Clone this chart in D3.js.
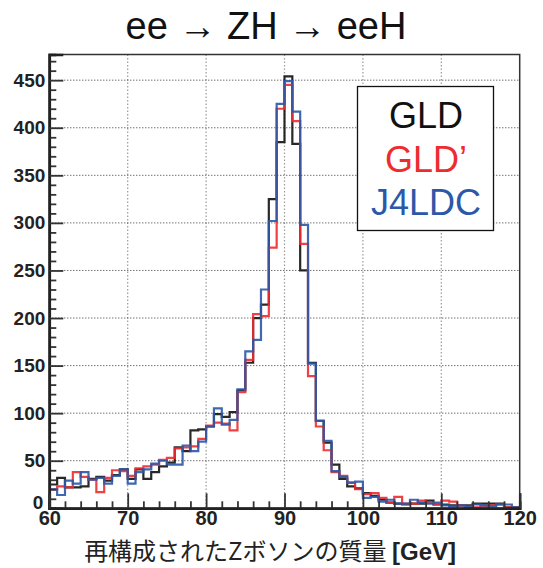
<!DOCTYPE html>
<html><head><meta charset="utf-8">
<script src="https://cdn.jsdelivr.net/npm/d3@7"></script>
<style>
html,body{margin:0;padding:0;background:#fff;}
svg{display:block;}
</style>
</head><body>
<svg id="c" width="543" height="568"></svg>
<script>
// ---- data (bin lower edges 60..119, 1 GeV bins) ----
const binEdges = d3.range(60, 121, 1);
const gld = [25, 32, 22, 22, 23, 31, 33, 29, 35, 41, 31, 41, 31, 38, 44, 48, 64, 60, 82, 83,
             86, 99, 96, 101, 124, 153, 200, 214, 325, 385, 454, 383, 250, 153, 92, 69, 46, 31, 23, 21,
             16, 13, 9, 6, 5, 4, 5, 5, 8, 4, 4, 3, 3, 3, 5, 5, 5, 5, 1, 1];
const gldPrime = [20, 23, 22, 38, 33, 30, 17, 32, 40, 39, 34, 42, 44, 46, 51, 53, 63, 64, 65, 73,
                  87, 90, 89, 82, 122, 156, 204, 202, 274, 420, 445, 407, 278, 139, 86, 61, 38, 34, 27, 20,
                  15, 16, 11, 6, 12, 5, 5, 8, 6, 4, 8, 7, 3, 1, 1, 2, 3, 4, 1, 1];
const j4ldc = [20, 14, 29, 26, 38, 30, 32, 26, 34, 41, 26, 38, 41, 47, 50, 46, 46, 66, 60, 70,
               86, 105, 88, 93, 125, 165, 177, 230, 302, 425, 449, 417, 298, 152, 92, 71, 39, 33, 27, 28,
               11, 12, 7, 9, 5, 5, 9, 6, 5, 6, 3, 2, 3, 2, 4, 3, 2, 4, 4, 1];
const seriesNames = ["GLD", "GLD\u2019", "J4LDC"];
const seriesColors = ["#111111", "#ee2b2f", "#2b58a8"];
const xTicks = [60, 70, 80, 90, 100, 110, 120];
const yTicks = [0, 50, 100, 150, 200, 250, 300, 350, 400, 450];
const titleText = "ee \u2192 ZH \u2192 eeH";
const xTitleMain = "再構成されたZボソンの質量 ";
const xTitleUnit = "[GeV]";

// ---- layout ----
const L = 49.3, R = 519.7, T = 54.5, B = 508.3;
const svg = d3.select("#c");
const x = d3.scaleLinear().domain([60, 120]).range([L, R]);
const y = d3.scaleLinear().domain([0, 477]).range([B, T]);

// grid
const grid = svg.append("g");
grid.selectAll("line.gx").data(xTicks.slice(1, -1)).join("line")
  .attr("x1", d => x(d)).attr("x2", d => x(d)).attr("y1", T).attr("y2", B)
  .attr("stroke", "#9a9a9a").attr("stroke-width", 1.2).attr("stroke-dasharray", "1.5,2");
grid.selectAll("line.gy").data(yTicks.slice(1)).join("line")
  .attr("x1", L).attr("x2", R).attr("y1", d => y(d)).attr("y2", d => y(d))
  .attr("stroke", "#333").attr("stroke-width", 1).attr("stroke-dasharray", "1,2");

// histograms
const all = [gld, gldPrime, j4ldc];
all.forEach((vals, k) => {
  let p = d3.path();
  p.moveTo(x(binEdges[0]), y(vals[0]));
  vals.forEach((v, i) => {
    if (i > 0) p.lineTo(x(binEdges[i]), y(v));
    p.lineTo(x(binEdges[i + 1]), y(v));
  });
  svg.append("path").attr("d", p.toString()).attr("fill", "none")
    .attr("stroke", seriesColors[k]).attr("stroke-width", 2.2).attr("stroke-opacity", 0.9);
});

// frame
svg.append("rect").attr("x", L).attr("y", T).attr("width", R - L).attr("height", B - T)
  .attr("fill", "none").attr("stroke", "#333").attr("stroke-width", 1.5);

// axes
const yAxis = d3.axisLeft(y).tickValues(yTicks).tickSize(-14).tickFormat(d3.format("d")).tickPadding(4);
const yMinor = d3.axisLeft(y).tickValues(d3.range(0, 471, 10).filter(v => v % 50 !== 0)).tickSize(-7).tickFormat("");
const xAxis = d3.axisBottom(x).tickValues(xTicks).tickSize(-15).tickFormat(d3.format("d")).tickPadding(2);
const xMinor = d3.axisBottom(x).tickValues(d3.range(60, 121, 2).filter(v => v % 10 !== 0)).tickSize(-7).tickFormat("");

function styleAxis(g) {
  g.select(".domain").attr("stroke", "#222").attr("stroke-width", 2.5);
  g.selectAll(".tick line").attr("stroke", "#333").attr("stroke-width", 1.8);
  g.selectAll("text").attr("font-family", "Liberation Sans, Arial, sans-serif")
    .attr("font-weight", "bold").attr("font-size", 19).attr("fill", "#222");
}
svg.append("g").attr("transform", `translate(${L},0)`).call(yMinor).call(styleAxis);
svg.append("g").attr("transform", `translate(0,${B})`).call(xMinor).call(styleAxis);
const gy = svg.append("g").attr("transform", `translate(${L},0)`).call(yAxis).call(styleAxis);
gy.selectAll(".tick text").filter(d => d === 0).attr("dy", "0em").attr("x", -6);
const gx = svg.append("g").attr("transform", `translate(0,${B})`).call(xAxis).call(styleAxis);
gx.selectAll("text").attr("font-size", 20);

// title
svg.append("text").attr("x", 266).attr("y", 39).attr("text-anchor", "middle")
  .attr("font-family", "Liberation Sans, Arial, sans-serif").attr("font-size", 38).attr("fill", "#111")
  .text(titleText);

// legend
svg.append("rect").attr("x", 357.5).attr("y", 86.5).attr("width", 136).attr("height", 144)
  .attr("fill", "#fff").attr("stroke", "#111").attr("stroke-width", 1.3);
seriesNames.forEach((n, i) => {
  svg.append("text").attr("x", 426).attr("y", 128 + i * 43.5).attr("text-anchor", "middle")
    .attr("font-family", "Liberation Sans, Arial, sans-serif").attr("font-size", 36)
    .attr("fill", seriesColors[i]).text(n);
});

// x title
const xt = svg.append("text").attr("x", 456).attr("y", 560).attr("text-anchor", "end")
  .attr("font-size", 24).attr("fill", "#222");
xt.append("tspan").attr("font-family", "Noto Sans CJK JP, sans-serif").text(xTitleMain);
xt.append("tspan").attr("font-family", "Liberation Sans, Arial, sans-serif").attr("font-weight", "bold").text(xTitleUnit);
</script>
</body></html>
